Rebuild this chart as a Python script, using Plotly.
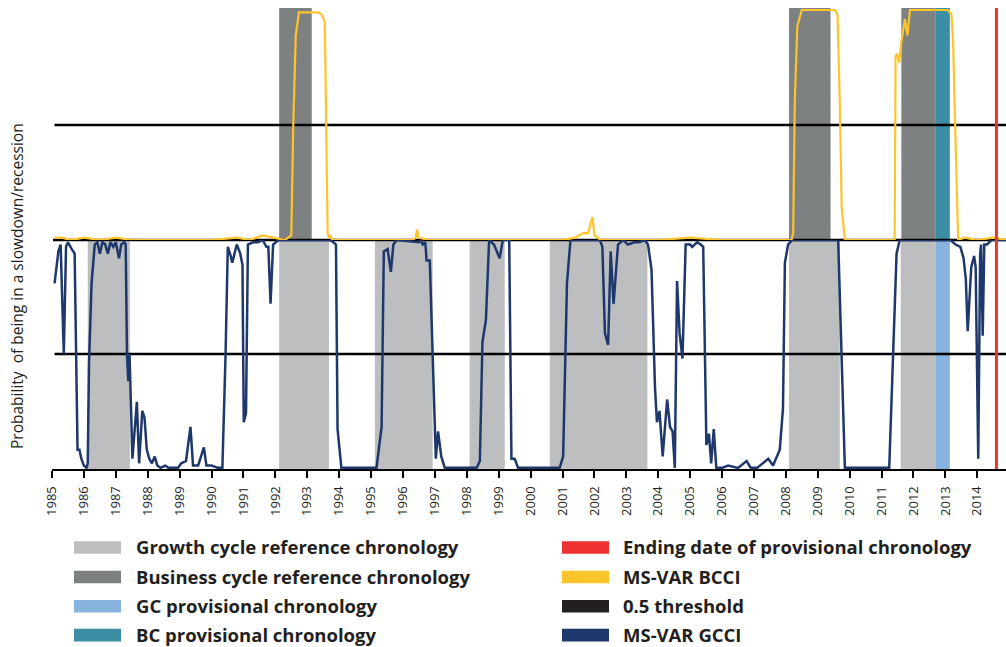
import plotly.graph_objects as go

# ---------------- data ----------------
gcci_x = [1985.08, 1985.20, 1985.27, 1985.37, 1985.44, 1985.50, 1985.62, 1985.71, 1985.80, 1985.86,
          1985.92, 1986.00, 1986.08, 1986.12, 1986.16, 1986.24, 1986.34, 1986.42, 1986.50, 1986.58,
          1986.67, 1986.75, 1986.83, 1986.92, 1987.00, 1987.10, 1987.17, 1987.27, 1987.31, 1987.35,
          1987.39, 1987.43, 1987.52, 1987.60, 1987.66, 1987.73, 1987.83, 1987.90, 1987.97, 1988.05,
          1988.13, 1988.22, 1988.30, 1988.40, 1988.55, 1988.65, 1988.80, 1988.95, 1989.05, 1989.20,
          1989.34, 1989.42, 1989.58, 1989.76, 1989.84, 1990.00, 1990.20, 1990.34, 1990.44, 1990.51,
          1990.60, 1990.65, 1990.79, 1990.90, 1990.97, 1991.01, 1991.08, 1991.14, 1991.30, 1991.45,
          1991.60, 1991.72, 1991.78, 1991.85, 1991.93, 1992.10, 1993.00, 1993.70, 1993.82, 1993.90,
          1993.95, 1994.07, 1995.17, 1995.33, 1995.40, 1995.52, 1995.62, 1995.70, 1995.80, 1996.50,
          1996.55, 1996.62, 1996.70, 1996.74, 1996.84, 1996.99, 1997.03, 1997.10, 1997.20, 1997.31,
          1998.20, 1998.31, 1998.41, 1998.49, 1998.60, 1998.70, 1998.85, 1999.03, 1999.13, 1999.33,
          1999.40, 1999.50, 1999.61, 2000.91, 2001.02, 2001.14, 2001.25, 2002.17, 2002.25, 2002.33,
          2002.43, 2002.51, 2002.60, 2002.74, 2002.90, 2003.05, 2003.25, 2003.40, 2003.58, 2003.68,
          2003.79, 2003.90, 2003.96, 2004.04, 2004.14, 2004.28, 2004.37, 2004.45, 2004.52, 2004.59,
          2004.67, 2004.76, 2004.86, 2005.00, 2005.06, 2005.22, 2005.33, 2005.41, 2005.51, 2005.59,
          2005.66, 2005.74, 2005.82, 2006.00, 2006.19, 2006.50, 2006.77, 2006.90, 2007.10, 2007.45,
          2007.60, 2007.81, 2007.91, 2007.97, 2008.07, 2008.20, 2009.64, 2009.75, 2009.85, 2011.24,
          2011.47, 2011.57, 2013.16, 2013.32, 2013.47, 2013.57, 2013.64, 2013.70, 2013.81, 2013.90,
          2013.95, 2014.03, 2014.09, 2014.12, 2014.17, 2014.22, 2014.30, 2014.45, 2014.92]
gcci_y = [0.81, 0.95, 0.98, 0.50, 0.97, 0.99, 0.96, 0.94, 0.08, 0.08,
          0.04, 0.01, 0.00, 0.02, 0.46, 0.81, 0.98, 0.99, 0.94, 0.99,
          0.98, 0.94, 0.99, 0.97, 0.99, 0.92, 0.98, 0.99, 0.98, 0.50,
          0.38, 0.50, 0.04, 0.20, 0.29, 0.02, 0.25, 0.22, 0.08, 0.04,
          0.02, 0.05, 0.01, 0.00, 0.01, 0.00, 0.00, 0.00, 0.02, 0.03,
          0.18, 0.01, 0.01, 0.09, 0.01, 0.01, 0.00, 0.00, 0.50, 0.97,
          0.93, 0.90, 0.98, 0.94, 0.89, 0.20, 0.24, 0.98, 0.99, 0.99,
          1.00, 0.97, 0.97, 0.72, 0.98, 1.00, 1.00, 1.00, 0.99, 0.98,
          0.17, 0.00, 0.00, 0.18, 0.95, 0.96, 0.86, 0.98, 1.00, 0.99,
          1.00, 0.98, 0.99, 0.91, 0.91, 0.16, 0.04, 0.16, 0.05, 0.00,
          0.00, 0.00, 0.03, 0.55, 0.65, 1.00, 0.98, 0.92, 1.00, 1.00,
          0.04, 0.04, 0.00, 0.00, 0.05, 0.81, 1.00, 1.00, 0.97, 0.59,
          0.54, 0.95, 0.72, 0.98, 1.00, 0.98, 0.99, 0.99, 1.00, 0.98,
          0.87, 0.35, 0.20, 0.25, 0.05, 0.30, 0.18, 0.16, 0.00, 0.82,
          0.59, 0.48, 0.98, 0.98, 0.97, 0.99, 0.98, 0.97, 0.10, 0.15,
          0.02, 0.17, 0.00, 0.00, 0.01, 0.00, 0.03, 0.00, 0.00, 0.04,
          0.01, 0.08, 0.26, 0.90, 0.98, 1.00, 1.00, 0.49, 0.00, 0.00,
          0.94, 1.00, 1.00, 0.98, 0.97, 0.92, 0.83, 0.60, 0.88, 0.93,
          0.88, 0.04, 0.94, 0.98, 0.58, 0.98, 0.98, 1.00, 1.00]

bcci_x = [1985.08, 1985.30, 1985.60, 1986.00, 1986.50, 1987.00, 1987.50, 1988.00, 1989.00, 1990.00,
          1990.80, 1991.20, 1991.60, 1992.00, 1992.30, 1992.50, 1992.56, 1992.64, 1992.74, 1993.34,
          1993.45, 1993.55, 1993.64, 1993.68, 1993.72, 1993.78, 1994.00, 1995.00, 1996.30, 1996.40,
          1996.44, 1996.49, 1996.80, 1998.00, 2000.00, 2001.00, 2001.40, 2001.55, 2001.65, 2001.80,
          2001.94, 2002.00, 2002.10, 2002.20, 2004.00, 2005.00, 2006.00, 2008.00, 2008.18, 2008.23,
          2008.28, 2008.36, 2008.50, 2009.54, 2009.62, 2009.69, 2009.75, 2009.85, 2011.41, 2011.44,
          2011.49, 2011.55, 2011.62, 2011.73, 2011.81, 2011.89, 2013.08, 2013.19, 2013.24, 2013.30,
          2013.40, 2013.60, 2014.00, 2014.50, 2014.92]
bcci_y = [0.01, 0.01, 0.00, 0.01, 0.00, 0.01, 0.00, 0.00, 0.00, 0.00,
          0.01, 0.00, 0.02, 0.01, 0.00, 0.02, 0.49, 0.89, 0.99, 0.99,
          0.98, 0.95, 0.03, 0.01, 0.02, 0.00, 0.00, 0.00, 0.00, 0.01,
          0.046, 0.01, 0.00, 0.00, 0.00, 0.00, 0.01, 0.02, 0.03, 0.03,
          0.10, 0.02, 0.01, 0.00, 0.00, 0.01, 0.00, 0.00, 0.00, 0.03,
          0.60, 0.93, 1.00, 1.00, 0.98, 0.60, 0.14, 0.00, 0.00, 0.80,
          0.81, 0.77, 0.86, 0.96, 0.89, 1.00, 1.00, 0.98, 0.87, 0.53,
          0.00, 0.01, 0.00, 0.01, 0.00]

# reference chronologies (start, end in decimal years)
growth_start = [1986.12, 1992.12, 1995.12, 1998.09, 2000.60, 2008.10, 2011.60]
growth_end = [1987.44, 1993.68, 1996.93, 1999.19, 2003.66, 2009.69, 2012.70]
business_start = [1992.12, 2008.10, 2011.62]
business_end = [1993.14, 2009.40, 2012.70]
gc_prov_start = [2012.70]
gc_prov_end = [2013.14]
bc_prov_start = [2012.70]
bc_prov_end = [2013.14]
ending_date = 2014.60
threshold = 0.5
series_start = 1985.08
x_end = 2014.92
years = list(range(1985, 2015))

legend_left = ["Growth cycle reference chronology", "Business cycle reference chronology",
               "GC provisional chronology", "BC provisional chronology"]
legend_right = ["Ending date of provisional chronology", "MS-VAR BCCI", "0.5 threshold", "MS-VAR GCCI"]

# ---------------- styles ----------------
C_GROWTH = "#bcbec0"
C_BUSINESS = "#7e8182"
C_GCPROV = "#87b3de"
C_BCPROV = "#3b8ea3"
C_RED = "#ee3131"
C_YELLOW = "#fec42c"
C_BLACK = "#000000"
C_NAVY = "#1f386c"
C_TEXT = "#231f20"
FONT = "Open Sans"

W, H = 1006, 647
L, R, T, B = 52, 0, 8, 178
PW, PH = W - L - R, H - T - B
BOTTOM_PX = H - B  # 469
split = 229 / PH


def px_x(px):
    return (px - L) / PW


def px_y(py):
    return (BOTTOM_PX - py) / PH


fig = go.Figure()

# threshold lines
for ax in ["y2", "y"]:
    fig.add_trace(go.Scatter(x=[series_start, x_end], y=[threshold, threshold], mode="lines",
                             line=dict(color=C_BLACK, width=2.5), xaxis="x", yaxis=ax,
                             hoverinfo="skip", showlegend=False))

fig.add_trace(go.Scatter(x=bcci_x, y=bcci_y, mode="lines", name="MS-VAR BCCI",
                         line=dict(color=C_YELLOW, width=2.2), xaxis="x", yaxis="y2",
                         showlegend=False))
fig.add_trace(go.Scatter(x=gcci_x, y=gcci_y, mode="lines", name="MS-VAR GCCI",
                         line=dict(color=C_NAVY, width=2.5), xaxis="x", yaxis="y",
                         showlegend=False))

shapes = []
for s, e in zip(growth_start, growth_end):
    shapes.append(dict(type="rect", xref="x", yref="y domain", x0=s, x1=e, y0=0, y1=1,
                       fillcolor=C_GROWTH, line=dict(width=0), layer="below"))
for s, e in zip(gc_prov_start, gc_prov_end):
    shapes.append(dict(type="rect", xref="x", yref="y domain", x0=s, x1=e, y0=0, y1=1,
                       fillcolor=C_GCPROV, line=dict(width=0), layer="below"))
for s, e in zip(business_start, business_end):
    shapes.append(dict(type="rect", xref="x", yref="y2 domain", x0=s, x1=e, y0=0, y1=1,
                       fillcolor=C_BUSINESS, line=dict(width=0), layer="below"))
for s, e in zip(bc_prov_start, bc_prov_end):
    shapes.append(dict(type="rect", xref="x", yref="y2 domain", x0=s, x1=e, y0=0, y1=1,
                       fillcolor=C_BCPROV, line=dict(width=0), layer="below"))
# panel separator
shapes.append(dict(type="line", xref="paper", yref="paper", x0=px_x(53), x1=1, y0=split, y1=split,
                   line=dict(color=C_BLACK, width=2.5), layer="below"))
shapes.append(dict(type="line", xref="x", yref="paper", x0=ending_date, x1=ending_date, y0=0, y1=1,
                   line=dict(color=C_RED, width=3), layer="above"))

# manual legend
left_colors = [C_GROWTH, C_BUSINESS, C_GCPROV, C_BCPROV]
right_colors = [C_RED, C_YELLOW, "#231f20", C_NAVY]
LEG_SIZE = 18.5
baselines = [553.8, 583.3, 612.6, 641.4]
annotations = []
for i, bl in enumerate(baselines):
    sc = bl - 6.3
    tc = bl - 0.388 * LEG_SIZE
    for (sx0, sx1, tx, col, txt) in [(74, 121, 135, left_colors[i], legend_left[i]),
                                     (562, 609, 622, right_colors[i], legend_right[i])]:
        shapes.append(dict(type="rect", xref="paper", yref="paper",
                           x0=px_x(sx0), x1=px_x(sx1), y0=px_y(sc - 6.3), y1=px_y(sc + 6.3),
                           fillcolor=col, line=dict(width=0)))
        annotations.append(dict(xref="paper", yref="paper", x=px_x(tx), y=px_y(tc),
                                xanchor="left", yanchor="middle", showarrow=False, borderpad=0,
                                text="<b>" + txt + "</b>",
                                font=dict(family=FONT, size=LEG_SIZE, color=C_TEXT)))

annotations.append(dict(xref="paper", yref="paper", x=px_x(17), y=px_y(286), textangle=-90,
                        xanchor="center", yanchor="middle", showarrow=False,
                        text="Probability  of being in a slowdown/recession",
                        font=dict(family=FONT, size=15.5, color=C_TEXT)))

fig.update_layout(
    width=W, height=H,
    margin=dict(l=L, r=R, t=T, b=B, pad=0),
    paper_bgcolor="white", plot_bgcolor="white",
    showlegend=False,
    font=dict(family=FONT, color=C_TEXT),
    xaxis=dict(range=[1985, 2014.9], tickmode="array", tickvals=years, ticktext=[str(y) for y in years],
               tickangle=-90, ticks="outside", ticklen=7, tickwidth=2, tickcolor=C_BLACK,
               ticklabelstandoff=3,
               showline=True, linecolor=C_BLACK, linewidth=2, showgrid=False, zeroline=False,
               anchor="y", tickfont=dict(family=FONT, size=13, color=C_TEXT)),
    yaxis=dict(domain=[0, split], range=[-0.005, 1.0], showticklabels=False, showgrid=False,
               zeroline=False, showline=False, ticks=""),
    yaxis2=dict(domain=[split, 1], range=[0, 1.0087], showticklabels=False, showgrid=False,
                zeroline=False, showline=False, ticks="", anchor="x"),
    shapes=shapes,
    annotations=annotations,
)

fig.write_html("out.html")
